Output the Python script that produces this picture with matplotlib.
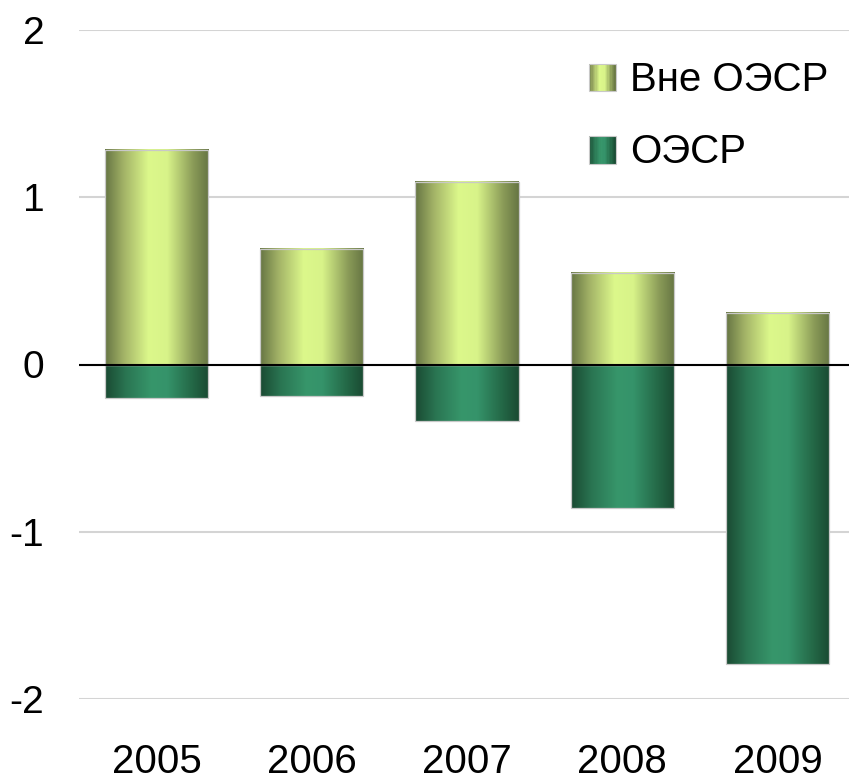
import matplotlib
matplotlib.use("Agg")
import matplotlib.pyplot as plt
import numpy as np
from matplotlib.colors import LinearSegmentedColormap
from matplotlib.patches import Rectangle, Patch
from matplotlib.legend_handler import HandlerBase

plt.rcParams['font.family'] = ['Liberation Sans', 'DejaVu Sans']

years = ['2005', '2006', '2007', '2008', '2009']
non_oecd = [1.28, 0.69, 1.09, 0.545, 0.305]
oecd = [-0.20, -0.19, -0.335, -0.86, -1.79]

# horizontal "cylinder" shading like the office chart
olive = LinearSegmentedColormap.from_list(
    'olive', [(0, '#667543'), (0.18, '#a3b367'), (0.42, '#dcf88b'),
              (0.6, '#d8f389'), (0.85, '#8a9b58'), (1, '#667543')])
green = LinearSegmentedColormap.from_list(
    'green', [(0, '#1a4a32'), (0.2, '#2a7552'), (0.45, '#37966b'),
              (0.6, '#35936a'), (0.85, '#236645'), (1, '#1a4a32')])

grad = np.linspace(0, 1, 256).reshape(1, -1)
width = 0.665


class GradHandler(HandlerBase):
    def __init__(self, cmap):
        super().__init__()
        self.cmap = cmap

    def create_artists(self, legend, orig, xd, yd, w, h, fontsize, trans):
        arts = []
        n = 20
        for i in range(n):
            r = Rectangle((xd + w * i / n, yd), w / n + 0.3, h,
                          facecolor=self.cmap((i + 0.5) / n), edgecolor='none',
                          transform=trans)
            arts.append(r)
        arts.append(Rectangle((xd, yd), w, h, facecolor='none',
                              edgecolor='#c8c8c8', lw=0.8, transform=trans))
        return arts


fig = plt.figure(figsize=(8.49, 7.81), dpi=100)
ax = fig.add_axes([79 / 849, 82 / 781, 776 / 849, 669 / 781])

x = np.arange(len(years))
for xi, v in zip(x, non_oecd):
    ax.imshow(grad, cmap=olive, aspect='auto', extent=(xi - width / 2, xi + width / 2, 0, v),
              zorder=2, interpolation='bilinear')
for xi, v in zip(x, oecd):
    ax.imshow(grad, cmap=green, aspect='auto', extent=(xi - width / 2, xi + width / 2, v, 0),
              zorder=2, interpolation='bilinear')
ax.bar(x, non_oecd, width=width, facecolor='none', edgecolor='#c8c8c8', lw=0.9, zorder=3)
ax.bar(x, oecd, width=width, facecolor='none', edgecolor='#c8c8c8', lw=0.9, zorder=3)

ax.axhline(0, color='black', lw=1.5, zorder=4)
ax.set_xlim(-0.5, 4.5)
ax.set_ylim(-2, 2)
ax.set_yticks([-2, -1, 0, 1, 2])
ax.set_yticklabels(['-2', '-1', '0', '1', '2'])
ax.set_xticks(x)
ax.set_xticklabels(years)
ax.grid(axis='y', color='#d4d4d4', lw=1.5, zorder=0)
ax.set_axisbelow(True)
for s in ax.spines.values():
    s.set_visible(False)
ax.tick_params(axis='y', length=0, pad=25, labelsize=28)
ax.tick_params(axis='x', length=0, pad=32, labelsize=29)

h1 = Patch(label='Вне ОЭСР')
h2 = Patch(label='ОЭСР')
ax.legend([h1, h2], ['Вне ОЭСР', 'ОЭСР'],
          handler_map={h1: GradHandler(olive), h2: GradHandler(green)},
          loc='upper right', bbox_to_anchor=(1.012, 1.008), frameon=False,
          fontsize=29, handlelength=0.67, handleheight=0.67, handletextpad=0.35,
          labelspacing=0.85)

fig.savefig('out.png', dpi=100)
